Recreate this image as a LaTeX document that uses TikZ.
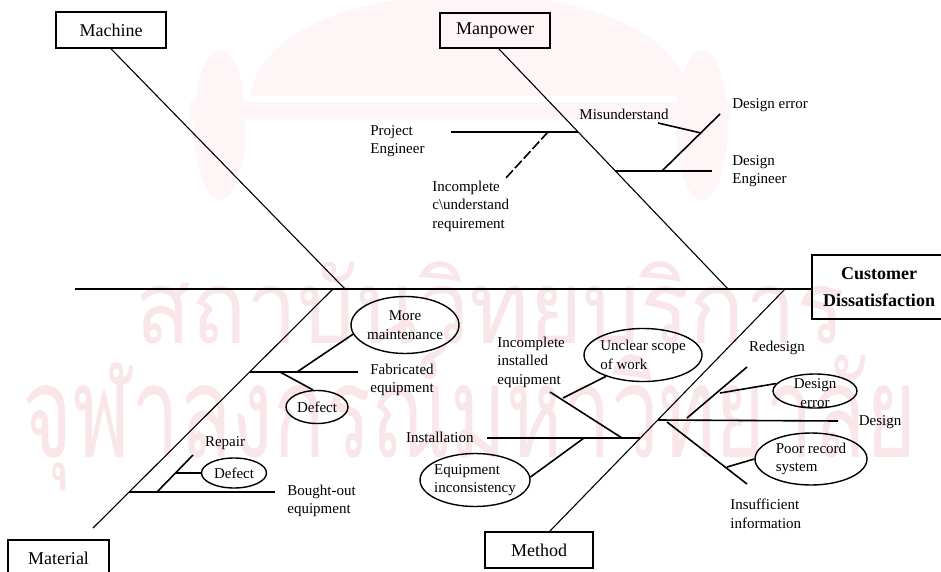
\documentclass[tikz,border=0pt]{standalone}
\usepackage{graphicx}
\usepackage{fontspec}
\setmainfont{Liberation Serif}
\newfontfamily\thaifont[Script=Thai]{Loma}
\usetikzlibrary{shapes.geometric,calc}
\definecolor{wmpink}{RGB}{248,230,233}
\definecolor{wmfaint}{RGB}{253,245,246}
\begin{document}
\begin{tikzpicture}[x=0.5pt,y=-0.5pt,
  spine/.style={line width=1.4pt},
  bone/.style={line width=0.55pt},
  twig/.style={line width=0.8pt},
  lbl/.style={font=\fontsize{7.5}{9.3}\selectfont, inner sep=0pt, align=left},
  oval/.style={ellipse, draw, line width=0.7pt, inner sep=0pt},
  catbox/.style={draw, line width=0.8pt, rectangle, inner sep=0pt, align=center,
                 font=\fontsize{9}{11}\selectfont},
  wm/.style={text=wmpink, inner sep=0pt}]
\useasboundingbox (0,0) rectangle (941,572);

% ---- background emblem and institute name ----
\fill[wmfaint] (250,96) .. controls (270,-40) and (670,-40) .. (690,96) -- cycle;
\fill[wmfaint] (190,102) rectangle (730,120);
\fill[wmfaint] (220,125) ellipse [x radius=26, y radius=75];
\fill[wmfaint] (702,125) ellipse [x radius=26, y radius=75];
\node[wm, anchor=base west] (wmA) at (135,343)
  {\resizebox{355pt}{\height}{\thaifont\fontsize{51}{51}\selectfont สถาบันวิทยบริการ}};
\node[wm, anchor=base west] (wmB) at (22,457)
  {\resizebox{447pt}{\height}{\thaifont\fontsize{64}{64}\selectfont จุฬาลงกรณ์มหาวิทยาลัย}};

% ---- head and spine ----
\node[catbox, minimum width=67pt, minimum height=32pt, font=\fontsize{9}{13.5}\selectfont\bfseries]
  (cust) at (879,287) {Customer\\Dissatisfaction};
\coordinate (spL) at (75,289);
\draw[spine] (spL) -- (spL -| cust.west);

% ---- Machine ----
\node[catbox, minimum width=55pt, minimum height=18pt] (mach) at (111,30) {Machine};
\coordinate (machE) at (345,289);
\draw[bone] (mach.south) -- (machE);

% ---- Manpower ----
\node[catbox, minimum width=55pt, minimum height=17.5pt] (man) at (495,30.5) {Manpower};
\coordinate (manS) at (498,48);
\coordinate (manE) at (728,289);
\draw[bone] (manS) -- (manE);

\coordinate (peL) at (451,132); \coordinate (peB) at (578,132);
\draw[twig] (peL) -- (peB);
\node[lbl, anchor=west] (peT) at (370,141) {Project\\Engineer};
\coordinate (icA) at (548,132); \coordinate (icE) at (505,179);
\draw[twig, dash pattern=on 5pt off 1.5pt] (icA) -- (icE);
\node[lbl, anchor=west] (icT) at (432,206) {Incomplete\\c\textbackslash understand\\requirement};

\coordinate (deB) at (615,171); \coordinate (deR) at (712,171);
\draw[twig] (deB) -- (deR);
\coordinate (dgA) at (662,171); \coordinate (dgE) at (720,114);
\draw[twig] (dgA) -- (dgE);
\coordinate (muL) at (658,123); \coordinate (muR) at (701,133);
\draw[twig] (muL) -- (muR);
\node[lbl] (muT) at (624,114) {Misunderstand};
\node[lbl, anchor=west] (derT) at (732,105) {Design error};
\node[lbl, anchor=west] (deT) at (732,171) {Design\\Engineer};

% ---- Material ----
\node[catbox, minimum width=50.5pt, minimum height=18pt] (mat) at (58.5,558) {Material};
\coordinate (matS) at (93,528); \coordinate (matE) at (333,289);
\draw[bone] (matS) -- (matE);

\coordinate (fabB) at (250,372); \coordinate (fabR) at (358,372);
\draw[twig] (fabB) -- (fabR);
\node[lbl, anchor=west] (fabT) at (370,380) {Fabricated\\equipment};
\node[oval, minimum width=54pt, minimum height=28.5pt] (mm) at (405,325) {};
\node[lbl, align=center] (mmT) at (mm) {More\\maintenance};
\coordinate (mmA) at (297,372);
\draw[twig] (mmA) -- (mm.190);
\node[oval, minimum width=31pt, minimum height=16.5pt] (df1) at (317,407) {};
\node[lbl] (df1T) at (df1) {Defect};
\coordinate (df1A) at (280,372);
\draw[twig] (df1A) -- (df1.103);

\coordinate (boB) at (129,492); \coordinate (boR) at (275,492);
\draw[twig] (boB) -- (boR);
\node[lbl, anchor=west] (boT) at (287,501) {Bought-out\\equipment};
\coordinate (rpA) at (157,492); \coordinate (rpE) at (193,455);
\draw[twig] (rpA) -- (rpE);
\node[lbl] (rpT) at (225,443) {Repair};
\node[oval, minimum width=32.5pt, minimum height=15pt] (df2) at (234,473) {};
\node[lbl] (df2T) at (df2) {Defect};
\coordinate (df2A) at (175,473);
\draw[twig] (df2A) -- (df2.west);

% ---- Method ----
\node[catbox, minimum width=54pt, minimum height=18pt] (meth) at (539,550) {Method};
\coordinate (methS) at (550,531); \coordinate (methE) at (785,289);
\draw[bone] (methS) -- (methE);

\coordinate (inL) at (487,438); \coordinate (inB) at (640,438);
\draw[twig] (inL) -- (inB);
\node[lbl, anchor=east] (inT) at (474,437) {Installation};
\coordinate (ieA) at (622,438); \coordinate (ieE) at (550,392);
\draw[twig] (ieA) -- (ieE);
\node[lbl, anchor=west] (ieT) at (497,362) {Incomplete\\installed\\equipment};
\node[oval, minimum width=59pt, minimum height=26.5pt] (uw) at (643,355) {};
\node[lbl] (uwT) at (uw) {Unclear scope\\of work};
\coordinate (uwA) at (563,398);
\draw[twig] (uwA) -- (uw.210);
\node[oval, minimum width=55pt, minimum height=26.5pt] (ei) at (475,480) {};
\node[lbl] (eiT) at (ei) {Equipment\\inconsistency};
\coordinate (eiA) at (584,438);
\draw[twig] (eiA) -- (ei.3);

\coordinate (dsB) at (658,420); \coordinate (dsR) at (838,421);
\draw[twig] (dsB) -- (dsR);
\node[lbl] (dsT) at (880,422) {Design};
\coordinate (rdA) at (687,418); \coordinate (rdE) at (747,367);
\draw[twig] (rdA) -- (rdE);
\node[lbl] (rdT) at (777,348) {Redesign};
\node[oval, minimum width=42pt, minimum height=17pt] (de2) at (815,391) {};
\node[lbl, align=center] (de2T) at (815,393) {Design\\error};
\coordinate (de2A) at (720,393);
\draw[twig] (de2A) -- (de2.169);

\coordinate (isA) at (667,422); \coordinate (isE) at (747,484);
\draw[twig] (isA) -- (isE);
\node[lbl, anchor=west] (isT) at (730,514) {Insufficient\\information};
\node[oval, minimum width=56pt, minimum height=26pt] (prs) at (811,459) {};
\node[lbl] (prsT) at (prs) {Poor record\\system};
\coordinate (prsA) at (727,467);
\draw[twig] (prsA) -- (prs.west);
\end{tikzpicture}
\end{document}
